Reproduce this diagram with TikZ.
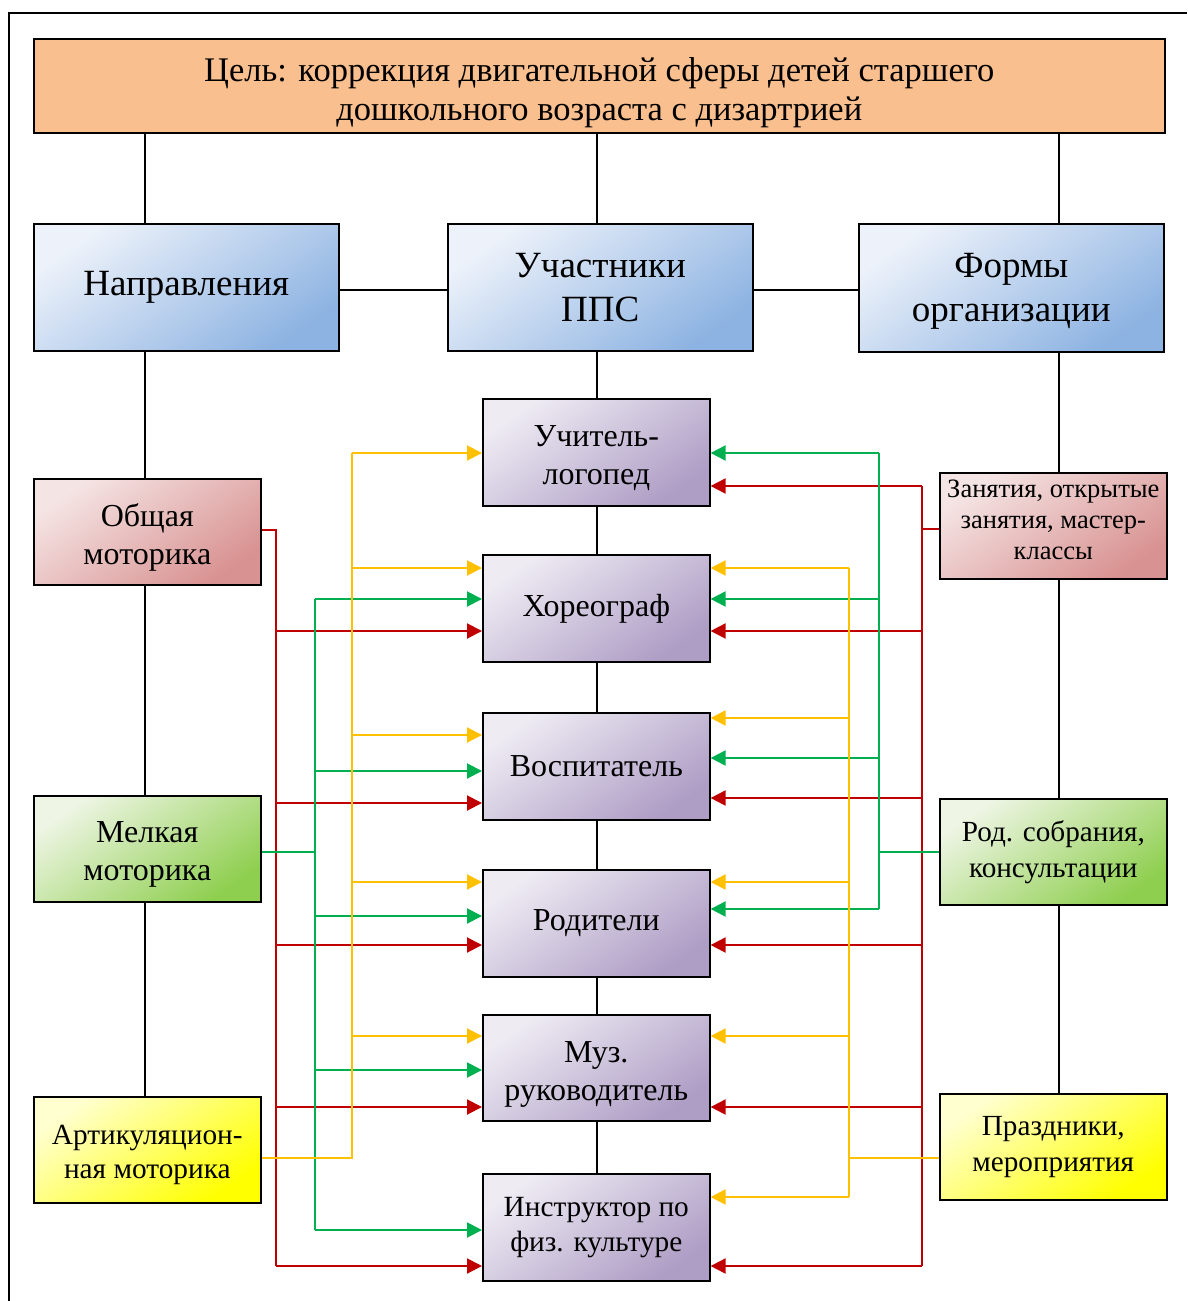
\documentclass[tikz,border=0pt]{standalone}
\usepackage{fontspec}
\setmainfont{Liberation Serif}
\usetikzlibrary{arrows.meta}
\definecolor{peach}{HTML}{F9BF8F}
\definecolor{blueL}{HTML}{EDF2FA}
\definecolor{blueD}{HTML}{8DB3E2}
\definecolor{pinkL}{HTML}{F5E4E4}
\definecolor{pinkD}{HTML}{D89291}
\definecolor{greenL}{HTML}{EEF5E4}
\definecolor{greenD}{HTML}{8FCF50}
\definecolor{yelL}{HTML}{FFFFD0}
\definecolor{yelD}{HTML}{FFFF00}
\definecolor{purL}{HTML}{EEEBF3}
\definecolor{purD}{HTML}{AE9DC5}
\definecolor{cred}{HTML}{C00000}
\definecolor{cgreen}{HTML}{00B050}
\definecolor{cyel}{HTML}{FFC000}
\newcommand{\topstrut}[1]{\rule{0pt}{#1}}
\newcommand{\botstrut}[1]{\rule[-#1]{0pt}{1pt}}
\tikzset{
  box/.style={draw=black, line width=1.6pt, inner sep=0pt, anchor=north west, align=center, shading=axis, shading angle=45},
  bluebox/.style={box, top color=blueL, bottom color=blueD, shading angle=35, minimum width=305pt, minimum height=127pt, font=\fontsize{37}{44}\selectfont},
  pinkbox/.style={box, top color=pinkL, bottom color=pinkD, shading angle=35},
  greenbox/.style={box, top color=greenL, bottom color=greenD, shading angle=35},
  yelbox/.style={box, top color=yelL, bottom color=yelD, shading angle=35},
  purbox/.style={box, top color=purL, bottom color=purD, shading angle=35, minimum width=227pt, minimum height=107pt, font=\fontsize{32}{38}\selectfont},
  sidebox/.style={minimum width=227pt, minimum height=106pt},
  link/.style={draw=black, line width=1.5pt},
  redl/.style={draw=cred, line width=1.6pt},
  greenl/.style={draw=cgreen, line width=1.6pt},
  yell/.style={draw=cyel, line width=1.6pt},
  redarr/.style={redl, line width=2pt, -{Triangle[length=15pt,width=15pt]}},
  greenarr/.style={greenl, line width=2pt, -{Triangle[length=15pt,width=15pt]}},
  yelarr/.style={yell, line width=2pt, -{Triangle[length=15pt,width=15pt]}},
}
\begin{document}
\begin{tikzpicture}[x=1pt,y=-1pt]
\useasboundingbox (0,0) rectangle (1187,1301);
\fill[white] (0,0) rectangle (1187,1301);
% frame
\draw[line width=2pt] (9,1301) -- (9,13) -- (1187,13);

% top
\node[draw=black, line width=1.6pt, fill=peach, anchor=north west, inner sep=0pt, minimum width=1131pt, minimum height=94pt, align=center, font=\fontsize{34.5}{39}\selectfont] (goal) at (33,38) {\topstrut{38pt}Цель: коррекция двигательной сферы детей старшего\\дошкольного возраста с дизартрией};

% second level
\node[bluebox] (dir) at (33,223) {Направления};
\node[bluebox] (uch) at (447,223) {Участники\\ППС};
\node[bluebox, minimum height=128pt] (form) at (858,223) {\topstrut{32pt}Формы\\организации};

% left column
\node[pinkbox, sidebox, font=\fontsize{32}{38}\selectfont] (obsh) at (33,478) {\topstrut{35pt}Общая\\моторика};
\node[greenbox, sidebox, font=\fontsize{32}{38}\selectfont] (melk) at (33,795) {\topstrut{33pt}Мелкая\\моторика};
\node[yelbox, sidebox, font=\fontsize{29.3}{34}\selectfont] (art) at (33,1096) {\topstrut{30pt}Артикуляцион-\\ная моторика};

% right column
\node[pinkbox, sidebox, font=\fontsize{26.5}{31}\selectfont] (zan) at (939,472) {Занятия, открытые\\занятия, мастер-\\классы\botstrut{12pt}};
\node[greenbox, sidebox, font=\fontsize{29.2}{36}\selectfont] (rod) at (939,798) {Род. собрания,\\консультации};
\node[yelbox, sidebox, font=\fontsize{29.2}{36}\selectfont] (pra) at (939,1093) {Праздники,\\мероприятия};

% center column
\node[purbox] (c1) at (482,398) {\topstrut{33pt}Учитель-\\логопед};
\node[purbox] (c2) at (482,554) {Хореограф};
\node[purbox] (c3) at (482,712) {Воспитатель};
\node[purbox] (c4) at (482,869) {Родители};
\node[purbox, minimum height=106pt] (c5) at (482,1014) {\topstrut{34pt}Муз.\\руководитель};
\node[purbox, font=\fontsize{29.3}{35}\selectfont] (c6) at (482,1173) {Инструктор по\\физ. культуре};

% black links
\draw[link] (goal.south -| 145,0) -- (dir.north -| 145,0);
\draw[link] (goal.south -| 597,0) -- (uch.north -| 597,0);
\draw[link] (goal.south -| 1059,0) -- (form.north -| 1059,0);
\draw[link] (dir.east |- 0,290) -- (uch.west |- 0,290);
\draw[link] (uch.east |- 0,290) -- (form.west |- 0,290);
\draw[link] (dir.south -| 145,0) -- (obsh.north -| 145,0);
\draw[link] (obsh.south -| 145,0) -- (melk.north -| 145,0);
\draw[link] (melk.south -| 145,0) -- (art.north -| 145,0);
\draw[link] (form.south -| 1059,0) -- (zan.north -| 1059,0);
\draw[link] (zan.south -| 1059,0) -- (rod.north -| 1059,0);
\draw[link] (rod.south -| 1059,0) -- (pra.north -| 1059,0);
\draw[link] (uch.south -| 597,0) -- (c1.north -| 597,0);
\draw[link] (c1.south -| 597,0) -- (c2.north -| 597,0);
\draw[link] (c2.south -| 597,0) -- (c3.north -| 597,0);
\draw[link] (c3.south -| 597,0) -- (c4.north -| 597,0);
\draw[link] (c4.south -| 597,0) -- (c5.north -| 597,0);
\draw[link] (c5.south -| 597,0) -- (c6.north -| 597,0);

% left red (Общая моторика)
\draw[redl] (obsh.east |- 0,530) -| (276,1266);
\foreach \n/\y in {c2/631, c3/803, c4/945, c5/1107, c6/1266}
  \draw[redarr] (276,\y) -- (\n.west |- 0,\y);
% left green (Мелкая моторика)
\draw[greenl] (melk.east |- 0,852) -- (315,852);
\draw[greenl] (315,599) -- (315,1230);
\foreach \n/\y in {c2/599, c3/771, c4/916, c5/1070, c6/1230}
  \draw[greenarr] (315,\y) -- (\n.west |- 0,\y);
% left yellow (Артикуляционная)
\draw[yell] (art.east |- 0,1158) -| (352,453);
\foreach \n/\y in {c1/453, c2/568, c3/735, c4/882, c5/1036}
  \draw[yelarr] (352,\y) -- (\n.west |- 0,\y);

% right red (Занятия)
\draw[redl] (zan.west |- 0,529) -- (922,529);
\draw[redl] (922,486) -- (922,1266);
\foreach \n/\y in {c1/486, c2/631, c3/798, c4/945, c5/1107, c6/1266}
  \draw[redarr] (922,\y) -- (\n.east |- 0,\y);
% right green (Род. собрания)
\draw[greenl] (rod.west |- 0,852) -- (879,852);
\draw[greenl] (879,453) -- (879,909);
\foreach \n/\y in {c1/453, c2/599, c3/758, c4/909}
  \draw[greenarr] (879,\y) -- (\n.east |- 0,\y);
% right yellow (Праздники)
\draw[yell] (pra.west |- 0,1158) -- (849,1158);
\draw[yell] (849,568) -- (849,1197);
\foreach \n/\y in {c2/568, c3/718, c4/882, c5/1036, c6/1197}
  \draw[yelarr] (849,\y) -- (\n.east |- 0,\y);
\end{tikzpicture}
\end{document}
